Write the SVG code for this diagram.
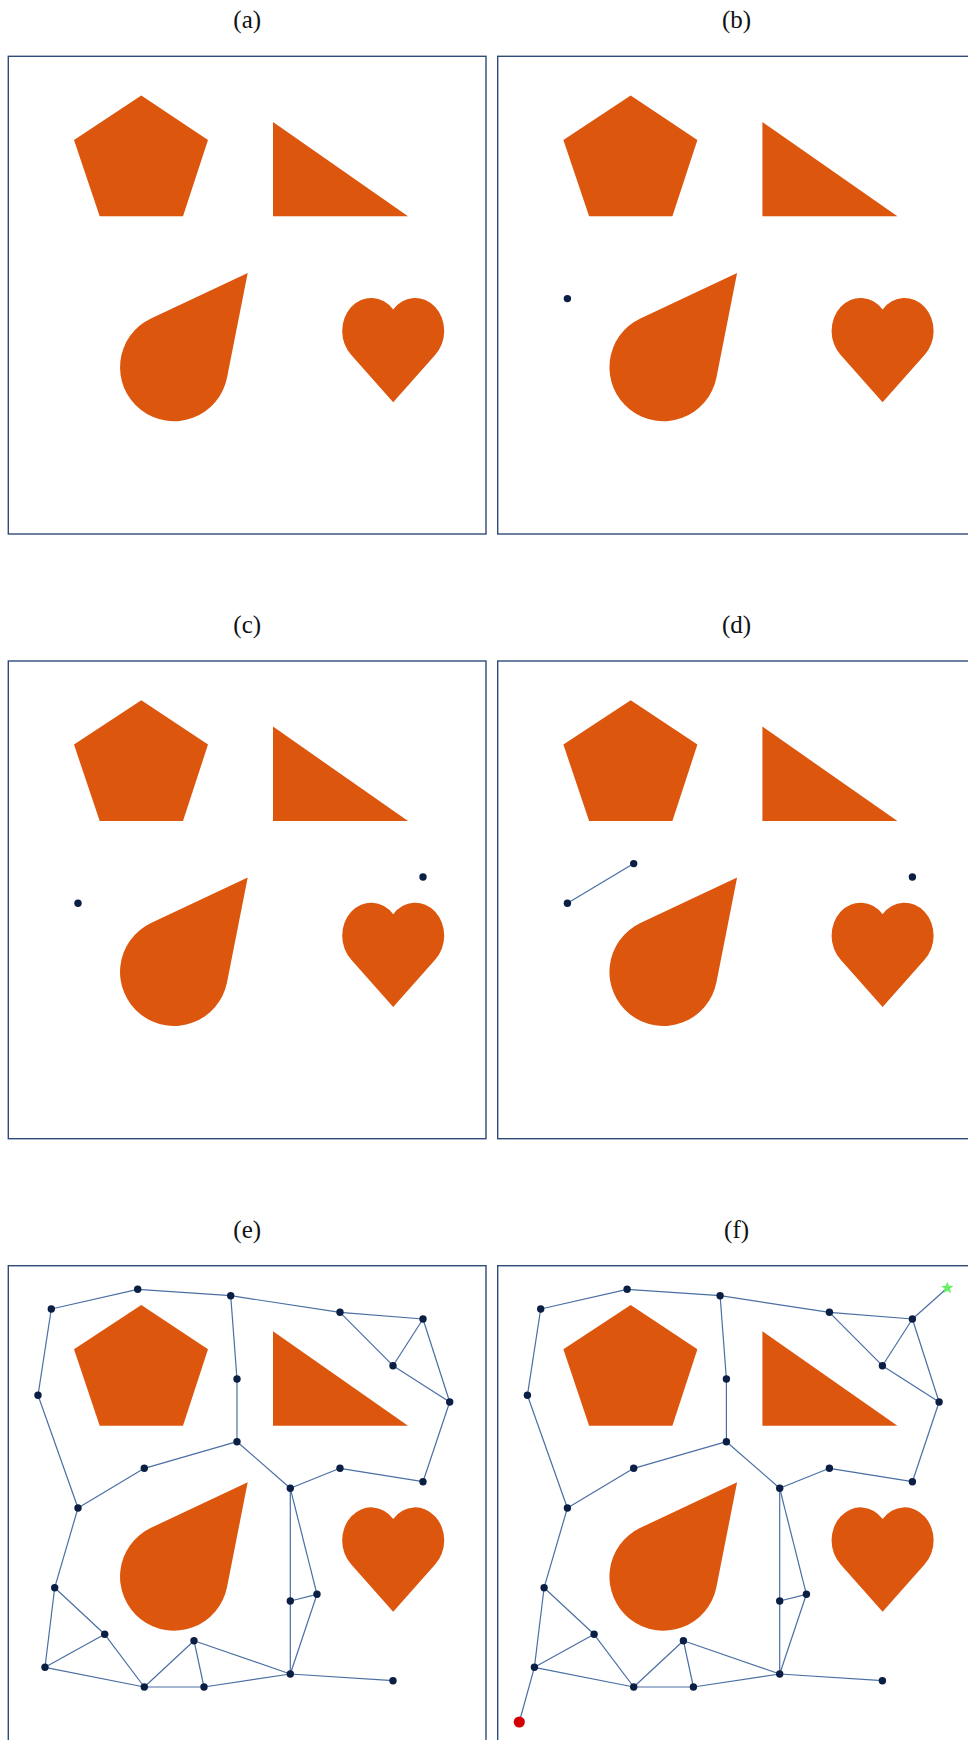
<svg xmlns="http://www.w3.org/2000/svg" xmlns:xlink="http://www.w3.org/1999/xlink" width="968" height="1740" viewBox="0 0 968 1740">
<style>
.box{fill:none;stroke:#2f4b78;stroke-width:1.4}
.obs{fill:#dc560e}
.edge{stroke:#4a6fa3;stroke-width:1.2;fill:none}
.node{fill:#0b1f45}
.start{fill:#d40000}
.goal{fill:#66f066}
.lbl{font-family:"Liberation Serif","Times New Roman",serif;font-size:25px;text-anchor:middle;fill:#111}
</style>
<defs>
<g id="obstacles">
<polygon class="obs" points="141.3,39.3 208,83.6 183,160 99.7,160 74,83.6"/>
<polygon class="obs" points="273,65.6 408,160 273,160"/>
<path class="obs" d="M247.7,216.6 L151,262.1 A54,54 0 1 0 227,321.5 Z"/>
<path class="obs" d="M393.2,346 L351.3,298.7 A29,33 0 1 1 393.2,253.2 A29,33 0 1 1 435.1,298.7 Z"/>
</g>
</defs>
<rect width="968" height="1740" fill="#fff"/>

<g id="panel-a" transform="translate(0,56.3)">
<text class="lbl" x="247.2" y="-28">(a)</text>
<rect class="box" x="8.3" y="0" width="477.7" height="477.7"/>
<use xlink:href="#obstacles" href="#obstacles"/>
</g>

<g id="panel-b" transform="translate(489.4,56.3)">
<text class="lbl" x="247.2" y="-28">(b)</text>
<rect class="box" x="8.3" y="0" width="477.7" height="477.7"/>
<use xlink:href="#obstacles" href="#obstacles"/>
<g id="b-n15"><circle class="node" cx="78" cy="242.3" r="3.7"/></g>
</g>

<g id="panel-c" transform="translate(0,661)">
<text class="lbl" x="247.2" y="-28">(c)</text>
<rect class="box" x="8.3" y="0" width="477.7" height="477.7"/>
<use xlink:href="#obstacles" href="#obstacles"/>
<g id="c-n15"><circle class="node" cx="78" cy="242.3" r="3.7"/></g>
<g id="c-n13"><circle class="node" cx="423" cy="216" r="3.7"/></g>
</g>

<g id="panel-d" transform="translate(489.4,661)">
<text class="lbl" x="247.2" y="-28">(d)</text>
<rect class="box" x="8.3" y="0" width="477.7" height="477.7"/>
<use xlink:href="#obstacles" href="#obstacles"/>
<g id="d-edges"><line class="edge" x1="78" y1="242.3" x2="144.3" y2="202.6"/></g>
<g id="d-n15"><circle class="node" cx="78" cy="242.3" r="3.7"/></g>
<g id="d-n11"><circle class="node" cx="144.3" cy="202.6" r="3.7"/></g>
<g id="d-n13"><circle class="node" cx="423" cy="216" r="3.7"/></g>
</g>

<g id="panel-e" transform="translate(0,1265.7)">
<text class="lbl" x="247.2" y="-28">(e)</text>
<rect class="box" x="8.3" y="0" width="477.7" height="477.7"/>
<use xlink:href="#obstacles" href="#obstacles"/>
<g id="e-edges">
<line class="edge" x1="51.3" y1="43.3" x2="137.7" y2="23.6"/>
<line class="edge" x1="137.7" y1="23.6" x2="230.7" y2="30"/>
<line class="edge" x1="230.7" y1="30" x2="340" y2="46.6"/>
<line class="edge" x1="340" y1="46.6" x2="423" y2="53.3"/>
<line class="edge" x1="340" y1="46.6" x2="393" y2="100"/>
<line class="edge" x1="423" y1="53.3" x2="393" y2="100"/>
<line class="edge" x1="423" y1="53.3" x2="449.7" y2="136.3"/>
<line class="edge" x1="393" y1="100" x2="449.7" y2="136.3"/>
<line class="edge" x1="51.3" y1="43.3" x2="38" y2="129.6"/>
<line class="edge" x1="230.7" y1="30" x2="237" y2="113.3"/>
<line class="edge" x1="237" y1="113.3" x2="237" y2="176"/>
<line class="edge" x1="237" y1="176" x2="144.3" y2="202.6"/>
<line class="edge" x1="237" y1="176" x2="290.3" y2="222.6"/>
<line class="edge" x1="290.3" y1="222.6" x2="340" y2="202.6"/>
<line class="edge" x1="340" y1="202.6" x2="423" y2="216"/>
<line class="edge" x1="449.7" y1="136.3" x2="423" y2="216"/>
<line class="edge" x1="38" y1="129.6" x2="78" y2="242.3"/>
<line class="edge" x1="144.3" y1="202.6" x2="78" y2="242.3"/>
<line class="edge" x1="78" y1="242.3" x2="54.7" y2="322"/>
<line class="edge" x1="54.7" y1="322" x2="104.7" y2="368.6"/>
<line class="edge" x1="54.7" y1="322" x2="45" y2="401.6"/>
<line class="edge" x1="104.7" y1="368.6" x2="45" y2="401.6"/>
<line class="edge" x1="104.7" y1="368.6" x2="144.3" y2="421.3"/>
<line class="edge" x1="45" y1="401.6" x2="144.3" y2="421.3"/>
<line class="edge" x1="144.3" y1="421.3" x2="194" y2="375"/>
<line class="edge" x1="144.3" y1="421.3" x2="204" y2="421.3"/>
<line class="edge" x1="194" y1="375" x2="204" y2="421.3"/>
<line class="edge" x1="194" y1="375" x2="290.3" y2="408.3"/>
<line class="edge" x1="204" y1="421.3" x2="290.3" y2="408.3"/>
<line class="edge" x1="290.3" y1="222.6" x2="290.3" y2="335.3"/>
<line class="edge" x1="290.3" y1="335.3" x2="290.3" y2="408.3"/>
<line class="edge" x1="290.3" y1="222.6" x2="317" y2="328.6"/>
<line class="edge" x1="317" y1="328.6" x2="290.3" y2="335.3"/>
<line class="edge" x1="317" y1="328.6" x2="290.3" y2="408.3"/>
<line class="edge" x1="290.3" y1="408.3" x2="393" y2="415"/>
</g>
<g id="e-n1"><circle class="node" cx="51.3" cy="43.3" r="3.7"/></g>
<g id="e-n2"><circle class="node" cx="137.7" cy="23.6" r="3.7"/></g>
<g id="e-n3"><circle class="node" cx="230.7" cy="30" r="3.7"/></g>
<g id="e-n4"><circle class="node" cx="340" cy="46.6" r="3.7"/></g>
<g id="e-n5"><circle class="node" cx="423" cy="53.3" r="3.7"/></g>
<g id="e-n6"><circle class="node" cx="393" cy="100" r="3.7"/></g>
<g id="e-n7"><circle class="node" cx="449.7" cy="136.3" r="3.7"/></g>
<g id="e-n8"><circle class="node" cx="38" cy="129.6" r="3.7"/></g>
<g id="e-n9"><circle class="node" cx="237" cy="113.3" r="3.7"/></g>
<g id="e-n10"><circle class="node" cx="237" cy="176" r="3.7"/></g>
<g id="e-n11"><circle class="node" cx="144.3" cy="202.6" r="3.7"/></g>
<g id="e-n12"><circle class="node" cx="340" cy="202.6" r="3.7"/></g>
<g id="e-n13"><circle class="node" cx="423" cy="216" r="3.7"/></g>
<g id="e-n14"><circle class="node" cx="290.3" cy="222.6" r="3.7"/></g>
<g id="e-n15"><circle class="node" cx="78" cy="242.3" r="3.7"/></g>
<g id="e-n16"><circle class="node" cx="54.7" cy="322" r="3.7"/></g>
<g id="e-n17"><circle class="node" cx="290.3" cy="335.3" r="3.7"/></g>
<g id="e-n18"><circle class="node" cx="317" cy="328.6" r="3.7"/></g>
<g id="e-n19"><circle class="node" cx="104.7" cy="368.6" r="3.7"/></g>
<g id="e-n20"><circle class="node" cx="194" cy="375" r="3.7"/></g>
<g id="e-n21"><circle class="node" cx="45" cy="401.6" r="3.7"/></g>
<g id="e-n22"><circle class="node" cx="290.3" cy="408.3" r="3.7"/></g>
<g id="e-n23"><circle class="node" cx="144.3" cy="421.3" r="3.7"/></g>
<g id="e-n24"><circle class="node" cx="204" cy="421.3" r="3.7"/></g>
<g id="e-n25"><circle class="node" cx="393" cy="415" r="3.7"/></g>
</g>

<g id="panel-f" transform="translate(489.4,1265.7)">
<text class="lbl" x="247.2" y="-28">(f)</text>
<rect class="box" x="8.3" y="0" width="477.7" height="477.7"/>
<use xlink:href="#obstacles" href="#obstacles"/>
<g id="f-edges">
<line class="edge" x1="51.3" y1="43.3" x2="137.7" y2="23.6"/>
<line class="edge" x1="137.7" y1="23.6" x2="230.7" y2="30"/>
<line class="edge" x1="230.7" y1="30" x2="340" y2="46.6"/>
<line class="edge" x1="340" y1="46.6" x2="423" y2="53.3"/>
<line class="edge" x1="340" y1="46.6" x2="393" y2="100"/>
<line class="edge" x1="423" y1="53.3" x2="393" y2="100"/>
<line class="edge" x1="423" y1="53.3" x2="449.7" y2="136.3"/>
<line class="edge" x1="393" y1="100" x2="449.7" y2="136.3"/>
<line class="edge" x1="51.3" y1="43.3" x2="38" y2="129.6"/>
<line class="edge" x1="230.7" y1="30" x2="237" y2="113.3"/>
<line class="edge" x1="237" y1="113.3" x2="237" y2="176"/>
<line class="edge" x1="237" y1="176" x2="144.3" y2="202.6"/>
<line class="edge" x1="237" y1="176" x2="290.3" y2="222.6"/>
<line class="edge" x1="290.3" y1="222.6" x2="340" y2="202.6"/>
<line class="edge" x1="340" y1="202.6" x2="423" y2="216"/>
<line class="edge" x1="449.7" y1="136.3" x2="423" y2="216"/>
<line class="edge" x1="38" y1="129.6" x2="78" y2="242.3"/>
<line class="edge" x1="144.3" y1="202.6" x2="78" y2="242.3"/>
<line class="edge" x1="78" y1="242.3" x2="54.7" y2="322"/>
<line class="edge" x1="54.7" y1="322" x2="104.7" y2="368.6"/>
<line class="edge" x1="54.7" y1="322" x2="45" y2="401.6"/>
<line class="edge" x1="104.7" y1="368.6" x2="45" y2="401.6"/>
<line class="edge" x1="104.7" y1="368.6" x2="144.3" y2="421.3"/>
<line class="edge" x1="45" y1="401.6" x2="144.3" y2="421.3"/>
<line class="edge" x1="144.3" y1="421.3" x2="194" y2="375"/>
<line class="edge" x1="144.3" y1="421.3" x2="204" y2="421.3"/>
<line class="edge" x1="194" y1="375" x2="204" y2="421.3"/>
<line class="edge" x1="194" y1="375" x2="290.3" y2="408.3"/>
<line class="edge" x1="204" y1="421.3" x2="290.3" y2="408.3"/>
<line class="edge" x1="290.3" y1="222.6" x2="290.3" y2="335.3"/>
<line class="edge" x1="290.3" y1="335.3" x2="290.3" y2="408.3"/>
<line class="edge" x1="290.3" y1="222.6" x2="317" y2="328.6"/>
<line class="edge" x1="317" y1="328.6" x2="290.3" y2="335.3"/>
<line class="edge" x1="317" y1="328.6" x2="290.3" y2="408.3"/>
<line class="edge" x1="290.3" y1="408.3" x2="393" y2="415"/>
<line class="edge" x1="423" y1="53.3" x2="457.9" y2="22.3"/>
<line class="edge" x1="45" y1="401.6" x2="29.9" y2="456.3"/>
</g>
<g id="f-n1"><circle class="node" cx="51.3" cy="43.3" r="3.7"/></g>
<g id="f-n2"><circle class="node" cx="137.7" cy="23.6" r="3.7"/></g>
<g id="f-n3"><circle class="node" cx="230.7" cy="30" r="3.7"/></g>
<g id="f-n4"><circle class="node" cx="340" cy="46.6" r="3.7"/></g>
<g id="f-n5"><circle class="node" cx="423" cy="53.3" r="3.7"/></g>
<g id="f-n6"><circle class="node" cx="393" cy="100" r="3.7"/></g>
<g id="f-n7"><circle class="node" cx="449.7" cy="136.3" r="3.7"/></g>
<g id="f-n8"><circle class="node" cx="38" cy="129.6" r="3.7"/></g>
<g id="f-n9"><circle class="node" cx="237" cy="113.3" r="3.7"/></g>
<g id="f-n10"><circle class="node" cx="237" cy="176" r="3.7"/></g>
<g id="f-n11"><circle class="node" cx="144.3" cy="202.6" r="3.7"/></g>
<g id="f-n12"><circle class="node" cx="340" cy="202.6" r="3.7"/></g>
<g id="f-n13"><circle class="node" cx="423" cy="216" r="3.7"/></g>
<g id="f-n14"><circle class="node" cx="290.3" cy="222.6" r="3.7"/></g>
<g id="f-n15"><circle class="node" cx="78" cy="242.3" r="3.7"/></g>
<g id="f-n16"><circle class="node" cx="54.7" cy="322" r="3.7"/></g>
<g id="f-n17"><circle class="node" cx="290.3" cy="335.3" r="3.7"/></g>
<g id="f-n18"><circle class="node" cx="317" cy="328.6" r="3.7"/></g>
<g id="f-n19"><circle class="node" cx="104.7" cy="368.6" r="3.7"/></g>
<g id="f-n20"><circle class="node" cx="194" cy="375" r="3.7"/></g>
<g id="f-n21"><circle class="node" cx="45" cy="401.6" r="3.7"/></g>
<g id="f-n22"><circle class="node" cx="290.3" cy="408.3" r="3.7"/></g>
<g id="f-n23"><circle class="node" cx="144.3" cy="421.3" r="3.7"/></g>
<g id="f-n24"><circle class="node" cx="204" cy="421.3" r="3.7"/></g>
<g id="f-n25"><circle class="node" cx="393" cy="415" r="3.7"/></g>
<g id="f-goal"><polygon class="goal" points="457.9,15.8 459.49,20.12 464.08,20.29 460.47,23.13 461.72,27.56 457.9,25 454.08,27.56 455.33,23.13 451.72,20.29 456.31,20.12"/></g>
<g id="f-start"><circle class="start" cx="29.9" cy="456.3" r="5.6"/></g>
</g>
</svg>
